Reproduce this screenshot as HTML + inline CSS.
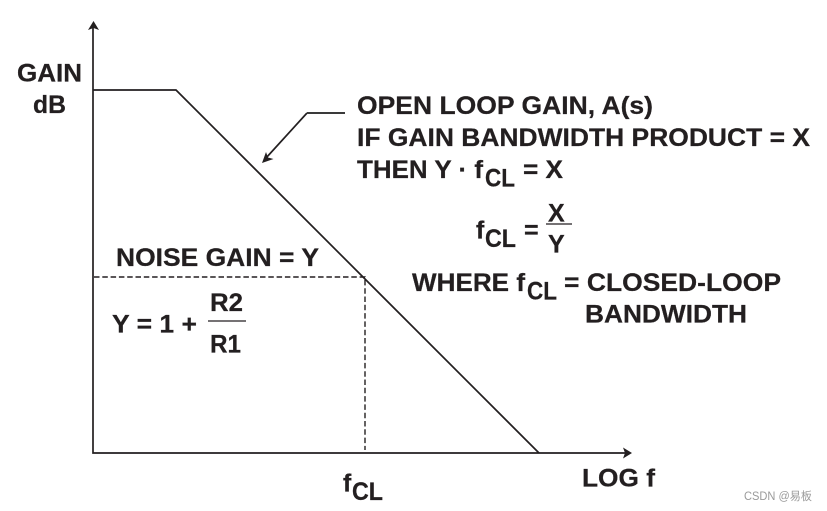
<!DOCTYPE html>
<html>
<head>
<meta charset="utf-8">
<style>
html,body{margin:0;padding:0;background:#fff;width:827px;height:511px;overflow:hidden}
svg{display:block}
text{font-family:"Liberation Sans","Noto Sans CJK SC",sans-serif;font-weight:bold;font-size:25px;fill:#231f20;stroke:#231f20;stroke-width:0.25px}
</style>
</head>
<body>
<svg width="827" height="511" viewBox="0 0 827 511" xmlns="http://www.w3.org/2000/svg">
<g fill="none" stroke="#231f20" stroke-width="1.7">
<path d="M93 27V453H625"/>
<path d="M93 90H176L539 453"/>
<path d="M307 113L266 158"/>
</g>
<path d="M307 113H345" fill="none" stroke="#3a3a3a" stroke-width="2"/>
<g fill="none" stroke="#231f20" stroke-width="1.4" stroke-dasharray="5.500 2.800">
<path d="M94 277H365V450"/>
</g>
<g fill="#231f20">
<path d="M93.500 21L99 30L93.500 28L88 30Z"/>
<path d="M632 453L623 447.500L625 453L623 458.500Z"/>
<path d="M262 163L266 152L268 157.500L273.500 159Z"/>
</g>
<g stroke="#231f20" stroke-width="1.300">
<line x1="546" y1="224" x2="572" y2="224"/>
<line x1="208" y1="321" x2="246" y2="321"/>
</g>
<text x="17" y="81.500" textLength="65" lengthAdjust="spacingAndGlyphs">GAIN</text>
<text x="33" y="113" textLength="33" lengthAdjust="spacingAndGlyphs">dB</text>
<text x="357" y="114" textLength="296" lengthAdjust="spacingAndGlyphs">OPEN LOOP GAIN, A(s)</text>
<text x="357" y="146" textLength="453" lengthAdjust="spacingAndGlyphs">IF GAIN BANDWIDTH PRODUCT = X</text>
<text x="357" y="178" textLength="126" lengthAdjust="spacingAndGlyphs">THEN Y · f</text>
<text x="485" y="186.500" textLength="30" lengthAdjust="spacingAndGlyphs">CL</text>
<text x="523" y="178" textLength="40" lengthAdjust="spacingAndGlyphs">= X</text>
<text x="476" y="238.500">f</text>
<text x="485" y="247" textLength="31" lengthAdjust="spacingAndGlyphs">CL</text>
<text x="524" y="238.500">=</text>
<text x="548" y="221.500">X</text>
<text x="548" y="252.500">Y</text>
<text x="412" y="291" textLength="113" lengthAdjust="spacingAndGlyphs">WHERE f</text>
<text x="527" y="299.500" textLength="30" lengthAdjust="spacingAndGlyphs">CL</text>
<text x="564" y="291" textLength="217" lengthAdjust="spacingAndGlyphs">= CLOSED-LOOP</text>
<text x="585" y="322.500" textLength="162" lengthAdjust="spacingAndGlyphs">BANDWIDTH</text>
<text x="116" y="266" textLength="203" lengthAdjust="spacingAndGlyphs">NOISE GAIN = Y</text>
<text x="112" y="332.500" textLength="85" lengthAdjust="spacingAndGlyphs">Y = 1 +</text>
<text x="210" y="311" textLength="33" lengthAdjust="spacingAndGlyphs">R2</text>
<text x="210" y="352.500" textLength="31" lengthAdjust="spacingAndGlyphs">R1</text>
<text x="343" y="491.500">f</text>
<text x="352" y="500" textLength="31" lengthAdjust="spacingAndGlyphs">CL</text>
<text x="582" y="486.500" textLength="73" lengthAdjust="spacingAndGlyphs">LOG f</text>
<text x="744" y="500" style="font-size:11.500px;font-weight:normal;fill:#9a9a9a;stroke:none" textLength="68" lengthAdjust="spacingAndGlyphs">CSDN @易板</text>
</svg>
</body>
</html>
